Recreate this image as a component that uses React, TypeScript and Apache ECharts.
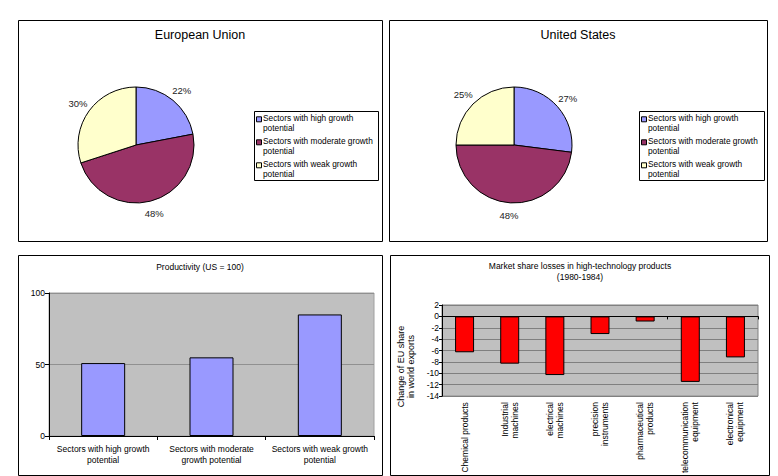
import React, { useEffect, useRef } from 'react';
import * as echarts from 'echarts';

// ---------- data ----------
const pieCategories = [
  'Sectors with high growth potential',
  'Sectors with moderate growth potential',
  'Sectors with weak growth potential',
];
const pieLegendLabels = [
  'Sectors with high growth\npotential',
  'Sectors with moderate growth\npotential',
  'Sectors with weak growth\npotential',
];
const euShares = [22, 48, 30];
const usShares = [27, 48, 25];
const pieColors = ['#9999ff', '#993366', '#ffffcc'];

const productivityCategories = [
  'Sectors with high growth potential',
  'Sectors with moderate growth potential',
  'Sectors with weak growth potential',
];
const productivityTickLabels = [
  'Sectors with high growth\npotential',
  'Sectors with moderate\ngrowth potential',
  'Sectors with weak growth\npotential',
];
const productivityValues = [51, 55, 85];

const productCategories = [
  'Chemical products',
  'Industrial machines',
  'electrical machines',
  'precision instruments',
  'pharmaceutical products',
  'telecommunication equipment',
  'electronical equipment',
];
const productTickLabels = [
  'Chemical products',
  'Industrial\nmachines',
  'electrical\nmachines',
  'precision\ninstruments',
  'pharmaceutical\nproducts',
  'telecommunication\nequipment',
  'electronical\nequipment',
];
const marketShareChange = [-6.3, -8.3, -10.3, -3.1, -0.9, -11.5, -7.2];

const FONT = 'Arial, "Liberation Sans", Helvetica, sans-serif';

function panel(x: number, y: number, w: number, h: number) {
  return {
    type: 'rect',
    silent: true,
    shape: { x: x + 0.5, y: y + 0.5, width: w, height: h },
    style: { fill: 'transparent', stroke: '#000', lineWidth: 1 },
    z: 10,
  };
}

// legend drawn as a boxed group (icons aligned with the first text line)
function legendBox(x: number, y: number, w: number, h: number) {
  const children: any[] = [
    {
      type: 'rect',
      shape: { x: 0.5, y: 0.5, width: w, height: h },
      style: { fill: '#fff', stroke: '#000', lineWidth: 1 },
    },
  ];
  pieCategories.forEach((_name, i) => {
    const rowTop = 2.3 + i * 23;
    children.push({
      type: 'rect',
      shape: { x: 2.5, y: rowTop + 3.5, width: 5, height: 5 },
      style: { fill: pieColors[i], stroke: '#000', lineWidth: 1 },
    });
    children.push({
      type: 'text',
      x: 9,
      y: rowTop,
      style: {
        text: pieLegendLabels[i],
        fontSize: 8.3,
        lineHeight: 10,
        fontFamily: FONT,
        fill: '#000',
        verticalAlign: 'top',
        align: 'left',
      },
    });
  });
  return { type: 'group', x, y, silent: true, z: 10, children };
}

function makePie(values: number[], cx: number, cy: number) {
  return {
    type: 'pie',
    center: [cx, cy],
    radius: 58,
    startAngle: 90,
    clockwise: true,
    avoidLabelOverlap: false,
    emphasis: { disabled: true },
    data: pieCategories.map((n, i) => ({
      name: n,
      value: values[i],
      itemStyle: { color: pieColors[i] },
    })),
    itemStyle: { borderColor: '#000', borderWidth: 1 },
    label: {
      show: true,
      position: 'outside',
      formatter: '{c}%',
      fontSize: 9.5,
      color: '#222',
      fontFamily: FONT,
      distanceToLabelLine: -9,
    },
    labelLine: { show: false, length: 13, length2: 0 },
  };
}

function titleAt(text: string, x: number, y: number, size: number) {
  return {
    text,
    left: x,
    top: y,
    padding: 0,
    textAlign: 'center',
    textVerticalAlign: 'middle',
    textStyle: {
      fontSize: size,
      fontWeight: 'normal',
      color: '#000',
      fontFamily: FONT,
      lineHeight: size > 10 ? 15 : 11,
    },
  };
}

export default function App() {
  const ref = useRef<HTMLDivElement>(null);

  useEffect(() => {
    if (!ref.current) return;
    const chart = echarts.init(ref.current, undefined, { renderer: 'svg' });
    const axisLabelBase = { fontSize: 8.5, color: '#000', fontFamily: FONT };
    const option: any = {
      animation: false,
      backgroundColor: '#ffffff',
      textStyle: { fontFamily: FONT },
      title: [
        titleAt('European Union', 200, 35, 12.5),
        titleAt('United States', 578, 35, 12.5),
        titleAt('Productivity (US = 100)', 200, 267, 8.5),
        titleAt('Market share losses in high-technology products\n(1980-1984)', 580, 271.5, 8.5),
      ],
      grid: [
        {
          left: 49, top: 293, width: 325, height: 143,
          show: true, backgroundColor: '#c0c0c0', borderColor: '#a0a0a0', borderWidth: 1,
        },
        {
          left: 442, top: 305, width: 316, height: 92,
          show: true, backgroundColor: '#c0c0c0', borderColor: '#808080', borderWidth: 1,
        },
      ],
      xAxis: [
        {
          gridIndex: 0,
          type: 'category',
          data: productivityCategories,
          axisLine: { show: true, lineStyle: { color: '#000' } },
          axisTick: { show: true, length: 4, lineStyle: { color: '#000' } },
          axisLabel: {
            ...axisLabelBase,
            interval: 0,
            lineHeight: 11,
            margin: 7,
            formatter: (_v: string, i: number) => productivityTickLabels[i],
          },
          splitLine: { show: false },
        },
        {
          gridIndex: 1,
          type: 'category',
          position: 'bottom',
          data: productCategories,
          axisLine: { show: false, onZero: false },
          axisTick: { show: false },
          axisLabel: {
            ...axisLabelBase,
            interval: 0,
            rotate: 90,
            lineHeight: 10,
            margin: 6,
            formatter: (_v: string, i: number) => productTickLabels[i],
          },
          splitLine: { show: false },
        },
        {
          gridIndex: 1,
          type: 'category',
          position: 'top',
          data: productCategories,
          axisLine: { show: true, onZero: true, lineStyle: { color: '#000' } },
          axisTick: { show: true, inside: true, length: 3, lineStyle: { color: '#000' } },
          axisLabel: { show: false },
          splitLine: { show: false },
        },
      ],
      yAxis: [
        {
          gridIndex: 0,
          type: 'value',
          min: 0,
          max: 100,
          interval: 50,
          axisLine: { show: true, lineStyle: { color: '#000' } },
          axisTick: { show: true, length: 4, lineStyle: { color: '#000' } },
          axisLabel: { ...axisLabelBase, margin: 4 },
          splitLine: { show: true, lineStyle: { color: '#909090' } },
        },
        {
          gridIndex: 1,
          type: 'value',
          min: -14,
          max: 2,
          interval: 2,
          name: 'Change of EU share\nin world exports',
          nameLocation: 'middle',
          nameGap: 26,
          nameRotate: 90,
          nameTextStyle: {
            fontSize: 9,
            lineHeight: 10,
            color: '#000',
            fontFamily: FONT,
            padding: [0, 32, 0, 0],
          },
          axisLine: { show: true, lineStyle: { color: '#000' } },
          axisTick: { show: true, length: 3, lineStyle: { color: '#000' } },
          axisLabel: { ...axisLabelBase, margin: 3 },
          splitLine: { show: true, lineStyle: { color: '#808080' } },
        },
      ],
      series: [
        makePie(euShares, 136, 145),
        makePie(usShares, 514, 145),
        {
          type: 'bar',
          xAxisIndex: 0,
          yAxisIndex: 0,
          data: productivityValues,
          barWidth: 44,
          itemStyle: { color: '#9999ff', borderColor: '#000', borderWidth: 1 },
          emphasis: { disabled: true },
        },
        {
          type: 'bar',
          xAxisIndex: 1,
          yAxisIndex: 1,
          data: marketShareChange,
          barWidth: 19,
          itemStyle: { color: '#ff0000', borderColor: '#000', borderWidth: 1 },
          emphasis: { disabled: true },
        },
      ],
      graphic: [
        panel(18, 20, 364, 221),
        panel(389, 20, 378, 221),
        panel(18, 255, 364, 220),
        panel(390, 255, 379, 220),
        legendBox(254, 111, 124, 69),
        legendBox(639, 111, 125, 69),
      ],
    };
    chart.setOption(option);
    return () => {
      chart.dispose();
    };
  }, []);

  return (
    <div
      ref={ref}
      style={{ position: 'absolute', left: 0, top: 0, width: 778, height: 476, background: '#fff' }}
    />
  );
}
